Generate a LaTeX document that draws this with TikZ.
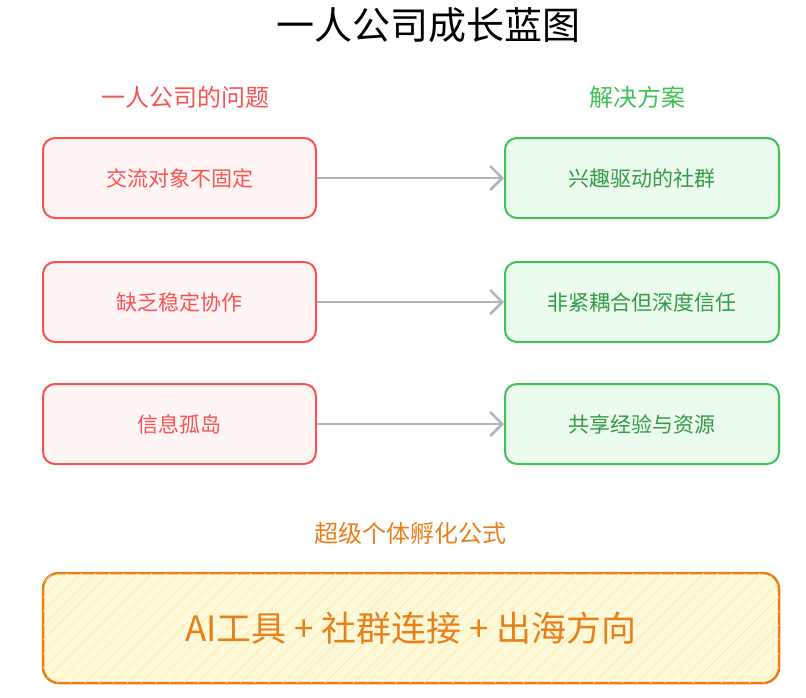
\documentclass[tikz,border=0pt]{standalone}
\usepackage{fontspec}
\setmainfont{Noto Sans CJK SC}
\usetikzlibrary{patterns.meta,arrows.meta}
\definecolor{rs}{HTML}{FA5252}\definecolor{rf}{HTML}{FFF5F5}
\definecolor{gs}{HTML}{40C057}\definecolor{gf}{HTML}{EBFBEE}
\definecolor{os}{HTML}{E8801A}\definecolor{of}{HTML}{FFF9DB}
\definecolor{ar}{HTML}{ADB5BD}
\begin{document}
\begin{tikzpicture}[x=1pt,y=-1pt,
 prob/.style={draw=rs,fill=rf,line width=2pt,rounded corners=12pt,minimum width=273pt,minimum height=80pt,text=rs,font=\fontsize{21}{24}\selectfont},
 sol/.style={draw=gs,fill=gf,line width=2pt,rounded corners=12pt,minimum width=274pt,minimum height=80pt,text=gs!80!black,font=\fontsize{21}{24}\selectfont},
 arr/.style={draw=ar,line width=2.5pt,-{Straight Barb[length=12pt,width=24pt]}},
 head/.style={font=\fontsize{24}{28}\selectfont}]
\useasboundingbox (0,0) rectangle (806,697);
\node[font=\fontsize{38}{42}\selectfont] (t) at (428,25) {一人公司成长蓝图};
\node[head,text=rs] (h1) at (185,97) {一人公司的问题};
\node[head,text=gs] (h2) at (637,97) {解决方案};
\node[prob] (p1) at (179.5,178) {交流对象不固定};
\node[prob] (p2) at (179.5,302) {缺乏稳定协作};
\node[prob] (p3) at (179.5,424) {信息孤岛};
\node[sol] (s1) at (642,178) {兴趣驱动的社群};
\node[sol] (s2) at (642,302) {非紧耦合但深度信任};
\node[sol] (s3) at (642,424) {共享经验与资源};
\draw[arr] (p1.east) -- (s1.west);
\draw[arr] (p2.east) -- (s2.west);
\draw[arr] (p3.east) -- (s3.west);
\node[head,text=os] (h3) at (410,533) {超级个体孵化公式};
\node[draw=os,line width=2.5pt,fill=of,rounded corners=16pt,minimum width=736pt,minimum height=110pt,
 postaction={pattern={Lines[angle=45,distance=10pt,line width=0.6pt]},pattern color=yellow!60!orange!40}] (f) at (411,628) {};
\node[text=os,font=\fontsize{35}{40}\selectfont] (ft) at (f) {AI工具 + 社群连接 + 出海方向};
\end{tikzpicture}
\end{document}
